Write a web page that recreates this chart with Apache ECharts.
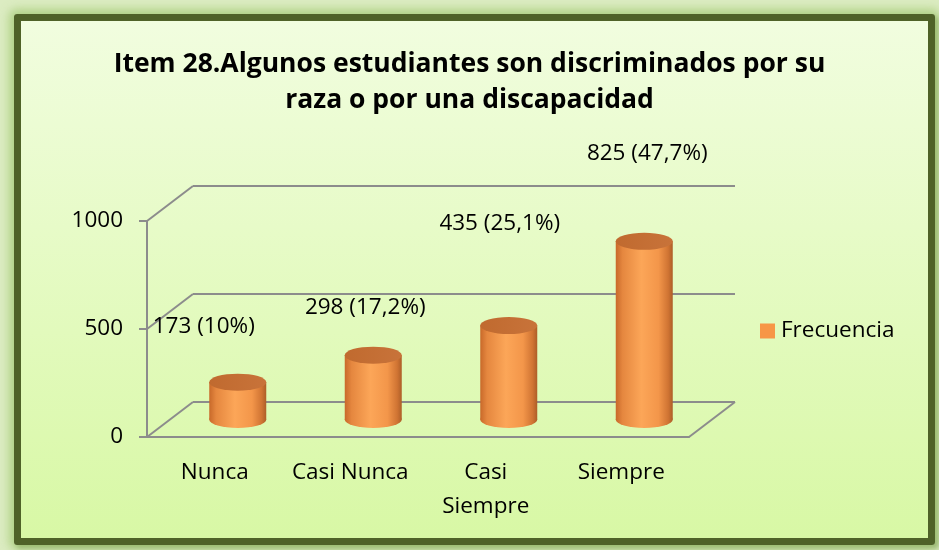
<!DOCTYPE html>
<html>
<head>
<meta charset="utf-8">
<script src="https://cdn.jsdelivr.net/npm/echarts@6/dist/echarts.min.js"></script>
<style>
  html, body { margin: 0; padding: 0; width: 939px; height: 550px; overflow: hidden; background: #dcecc2; }
  #frame {
    position: absolute; left: 14px; top: 14px; width: 907px; height: 517px;
    border: 7px solid #4f6228; border-radius: 3px;
    background: linear-gradient(#f1fddf, #d8f8a5);
    box-shadow: 0 0 10px 5px rgba(160, 200, 110, 0.7), 3px 3px 4px rgba(60, 80, 30, 0.4);
  }
  #main { position: absolute; left: 0; top: 0; width: 939px; height: 550px; }
</style>
</head>
<body>
<div id="frame"></div>
<div id="main"></div>
<script>
  // datos del grafico
  var categorias = ['Nunca', 'Casi Nunca', 'Casi Siempre', 'Siempre'];
  var frecuencia = [173, 298, 435, 825];
  var porcentaje = [10, 17.2, 25.1, 47.7];
  var ejeY = [0, 500, 1000];

  var chart = echarts.init(document.getElementById('main'));

  // caja 3D: plano frontal, desplazamiento de profundidad
  var frente = { left: 147, top: 221, width: 542, height: 216 };
  var prof = [46, -35];
  var gris = '#8c8c8c';
  var fuente = 'Open Sans';
  var tam = 22.5;

  // ajuste de las etiquetas (como en Excel)
  var etiquetaDesp = [[-34, -44], [-8, -36], [-9, -90], [3, -76]];

  var cuerpo = new echarts.graphic.LinearGradient(0, 0, 1, 0, [
    { offset: 0, color: '#c8692a' },
    { offset: 0.12, color: '#e5873f' },
    { offset: 0.45, color: '#fca658' },
    { offset: 0.75, color: '#f3964a' },
    { offset: 0.92, color: '#d07433' },
    { offset: 1, color: '#ad5e28' }
  ]);
  var tapa = new echarts.graphic.LinearGradient(0, 0, 1, 0, [
    { offset: 0, color: '#c06a2f' },
    { offset: 1, color: '#c8733a' }
  ]);

  var ancho = 57;

  var option = {
    title: {
      text: 'Item 28.Algunos estudiantes son discriminados por su\nraza o por una discapacidad',
      left: 'center',
      top: 46,
      padding: 0,
      textStyle: { fontFamily: fuente, fontWeight: 'bold', fontSize: 26.5, lineHeight: 36, color: '#000' }
    },
    legend: {
      data: [{ name: 'Frecuencia', itemStyle: { color: '#f79646' } }],
      left: 760, top: 319, padding: 0,
      icon: 'rect', itemWidth: 15, itemHeight: 15, itemGap: 6,
      textStyle: { fontFamily: fuente, fontSize: tam, lineHeight: 24, color: '#000', padding: [0, 0, 0, 1] }
    },
    grid: [
      { left: frente.left, top: frente.top, width: frente.width, height: frente.height },
      { left: frente.left + prof[0], top: frente.top + prof[1], width: frente.width, height: frente.height },
      { left: frente.left + prof[0] / 2, top: frente.top + prof[1] / 2, width: frente.width, height: frente.height }
    ],
    xAxis: [
      {
        gridIndex: 0, type: 'category', data: categorias,
        axisLine: { lineStyle: { color: gris, width: 2 } },
        axisTick: { length: 8, lineStyle: { color: gris, width: 2 } },
        axisLabel: {
          interval: 0, margin: 19, color: '#000', fontFamily: fuente, fontSize: tam, lineHeight: 34,
          formatter: function (v) { return v === 'Casi Siempre' ? 'Casi\nSiempre' : v; }
        }
      },
      { gridIndex: 1, type: 'category', data: categorias, show: false },
      { gridIndex: 2, type: 'category', data: categorias, show: false }
    ],
    yAxis: [
      {
        gridIndex: 0, type: 'value', min: ejeY[0], max: ejeY[ejeY.length - 1], interval: ejeY[1] - ejeY[0],
        axisLine: { show: true, lineStyle: { color: gris, width: 2 } },
        axisTick: { show: true, length: 8, lineStyle: { color: gris, width: 2 } },
        axisLabel: {
          margin: 24, color: '#000', fontFamily: fuente, fontSize: tam,
          formatter: function (v) { return String(v); }
        },
        splitLine: { show: false }
      },
      {
        gridIndex: 1, type: 'value', min: ejeY[0], max: ejeY[ejeY.length - 1], interval: ejeY[1] - ejeY[0],
        axisLine: { show: false }, axisTick: { show: false }, axisLabel: { show: false },
        splitLine: { show: true, lineStyle: { color: gris, width: 2 } }
      },
      {
        gridIndex: 2, type: 'value', min: ejeY[0], max: ejeY[ejeY.length - 1], show: false,
        splitLine: { show: false }
      }
    ],
    series: [
      {
        name: 'base', type: 'pictorialBar', xAxisIndex: 2, yAxisIndex: 2,
        symbol: 'circle', symbolSize: [ancho, 17], symbolOffset: [0, '50%'],
        itemStyle: { color: cuerpo }, z: 3, silent: true,
        data: frecuencia
      },
      {
        name: 'Frecuencia', type: 'bar', xAxisIndex: 2, yAxisIndex: 2,
        barWidth: ancho, itemStyle: { color: cuerpo }, z: 4,
        data: frecuencia.map(function (v, i) {
          return {
            value: v,
            label: { offset: etiquetaDesp[i] }
          };
        }),
        label: {
          show: true, position: 'top', distance: 0,
          color: '#000', fontFamily: fuente, fontSize: tam,
          formatter: function (p) {
            return p.value + ' (' + String(porcentaje[p.dataIndex]).replace('.', ',') + '%)';
          }
        }
      },
      {
        name: 'tapa', type: 'pictorialBar', xAxisIndex: 2, yAxisIndex: 2,
        symbol: 'circle', symbolSize: [ancho, 17], symbolPosition: 'end', symbolOffset: [0, '-50%'],
        itemStyle: { color: tapa }, z: 5, silent: true,
        data: frecuencia
      }
    ]
  };
  chart.setOption(option);

  // diagonales de la caja 3D, a partir de la escala del eje
  var lineas = [];
  ejeY.forEach(function (v) {
    var y = chart.convertToPixel({ yAxisIndex: 0 }, v);
    lineas.push({
      type: 'line', z: 1,
      shape: { x1: frente.left, y1: y, x2: frente.left + prof[0], y2: y + prof[1] },
      style: { stroke: gris, lineWidth: 2 }
    });
  });
  var y0 = chart.convertToPixel({ yAxisIndex: 0 }, ejeY[0]);
  lineas.push({
    type: 'line', z: 1,
    shape: { x1: frente.left + frente.width, y1: y0, x2: frente.left + frente.width + prof[0], y2: y0 + prof[1] },
    style: { stroke: gris, lineWidth: 2 }
  });
  chart.setOption({ graphic: lineas });
</script>
</body>
</html>
